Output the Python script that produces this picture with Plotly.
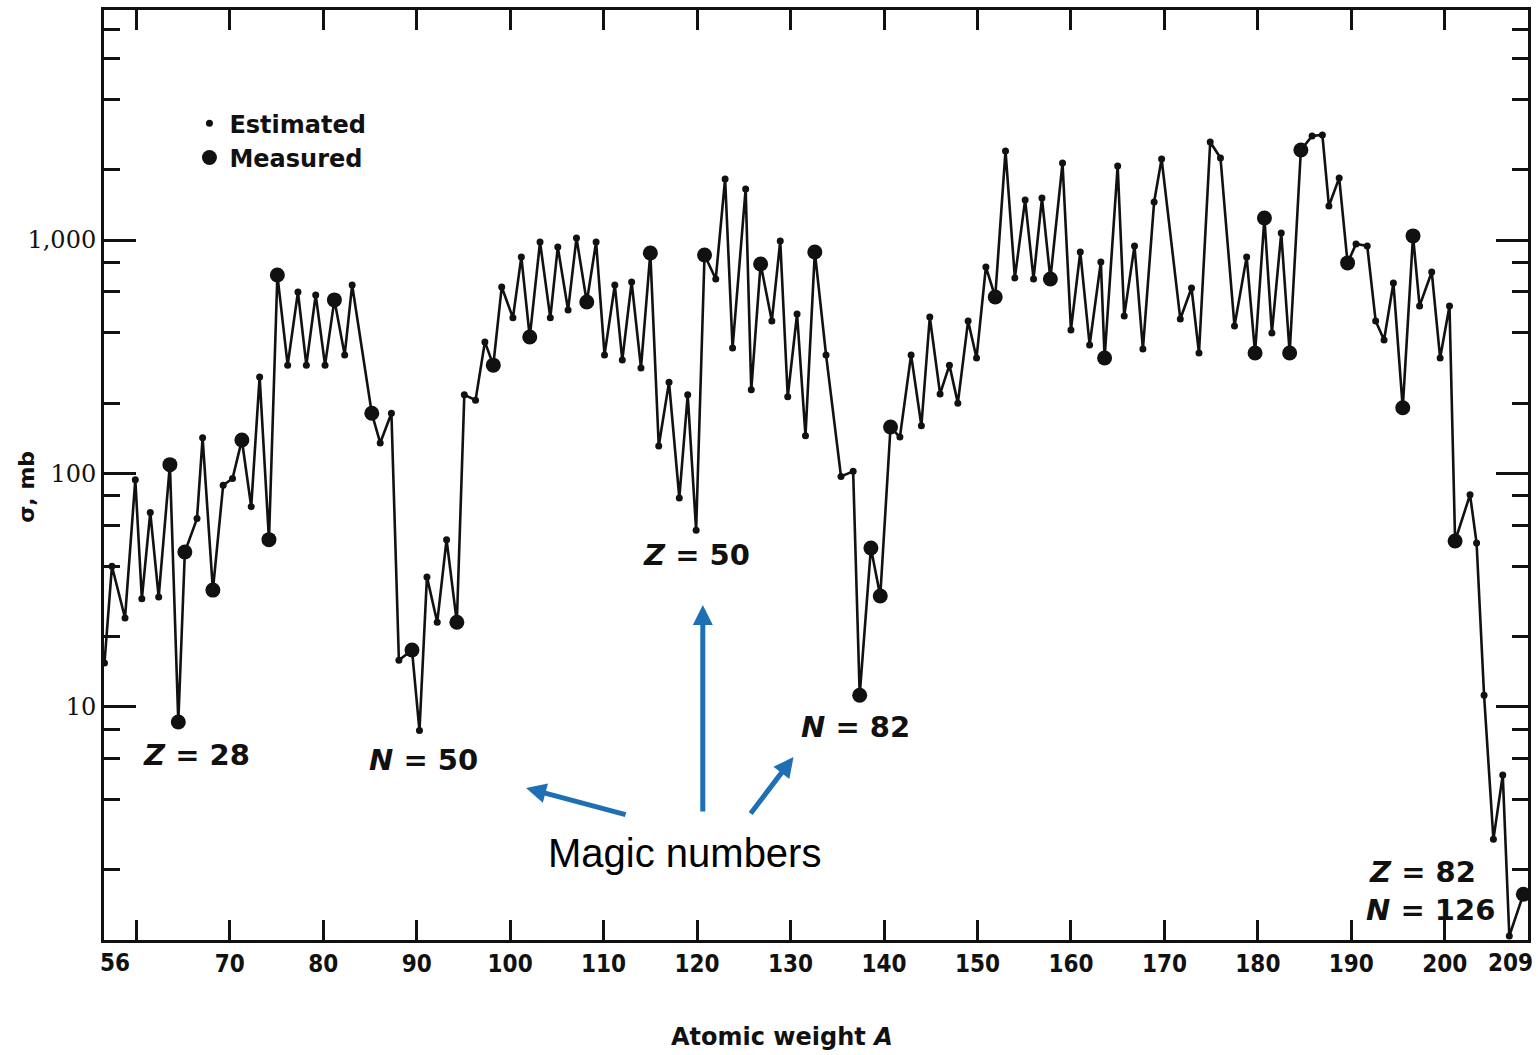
import plotly.graph_objects as go

# ---------------- data ----------------
A = [56.6, 57.4, 58.8, 59.9, 60.6, 61.5, 62.4, 63.6, 64.5, 65.2,
     66.5, 67.1, 68.2, 69.3, 70.3, 71.3, 72.3, 73.2, 74.2, 75.1,
     76.2, 77.3, 78.2, 79.2, 80.2, 81.2, 82.3, 83.1, 85.2, 86.1,
     87.3, 88.1, 89.5, 90.3, 91.1, 92.2, 93.2, 94.3, 95.1, 96.3,
     97.3, 98.2, 99.1, 100.3, 101.2, 102.1, 103.2, 104.3, 105.1, 106.2,
     107.1, 108.2, 109.2, 110.1, 111.2, 112.0, 113.0, 114.0, 115.0, 115.9,
     117.0, 118.1, 119.0, 119.9, 120.8, 122.0, 123.0, 123.8, 125.2, 125.8,
     126.8, 128.0, 128.9, 129.7, 130.7, 131.6, 132.6, 133.8, 135.4, 136.7,
     137.4, 138.6, 139.6, 140.7, 141.7, 142.9, 144.0, 144.9, 146.0, 147.0,
     147.9, 149.0, 149.9, 150.9, 151.9, 153.0, 154.0, 155.1, 156.0, 156.9,
     157.8, 159.1, 160.0, 161.0, 162.0, 163.2, 163.6, 165.0, 165.7, 166.8,
     167.7, 168.9, 169.7, 171.7, 172.9, 173.7, 174.9, 176.0, 177.5, 178.8,
     179.7, 180.7, 181.5, 182.5, 183.4, 184.6, 185.8, 186.9, 187.6, 188.7,
     189.6, 190.5, 191.7, 192.6, 193.5, 194.5, 195.5, 196.6, 197.3, 198.6,
     199.5, 200.5, 201.1, 202.7, 203.4, 204.2, 205.2, 206.2, 206.9, 208.4]

sigma = [15.4, 40, 24, 94, 29, 68, 29.5, 109, 8.6, 46,
         64, 142, 31.6, 89, 95, 139, 72, 259, 52, 708,
         291, 599, 291, 582, 291, 554, 322, 642, 181, 135,
         181, 15.8, 17.5, 7.9, 36, 23, 52, 23, 217, 206,
         366, 291, 629, 464, 847, 384, 981, 464, 934, 501,
         1021, 543, 981, 322, 642, 306, 661, 283, 880, 131,
         246, 78.5, 217, 57, 863, 681, 1828, 345, 1656, 228,
         790, 450, 991, 213, 482, 145, 889, 322, 97, 102,
         11.2, 47.9, 29.8, 158, 143, 322, 160, 468, 219, 291,
         200, 450, 312, 767, 570, 2410, 688, 1486, 681, 1514,
         681, 2140, 412, 889, 355, 806, 312, 2078, 473, 944,
         341, 1456, 2228, 459, 623, 328, 2633, 2249, 428, 847,
         328, 1244, 400, 1072, 328, 2432, 2794, 2820, 1400, 1847,
         798, 962, 944, 450, 373, 655, 191, 1042, 522, 730,
         312, 522, 51.3, 81, 50.3, 11.2, 2.7, 5.1, 1.04, 1.57]

# 'M' = measured, 'E' = estimated
kind = ['E', 'E', 'E', 'E', 'E', 'E', 'E', 'M', 'M', 'M',
        'E', 'E', 'M', 'E', 'E', 'M', 'E', 'E', 'M', 'M',
        'E', 'E', 'E', 'E', 'E', 'M', 'E', 'E', 'M', 'E',
        'E', 'E', 'M', 'E', 'E', 'E', 'E', 'M', 'E', 'E',
        'E', 'M', 'E', 'E', 'E', 'M', 'E', 'E', 'E', 'E',
        'E', 'M', 'E', 'E', 'E', 'E', 'E', 'E', 'M', 'E',
        'E', 'E', 'E', 'E', 'M', 'E', 'E', 'E', 'E', 'E',
        'M', 'E', 'E', 'E', 'E', 'E', 'M', 'E', 'E', 'E',
        'M', 'M', 'M', 'M', 'E', 'E', 'E', 'E', 'E', 'E',
        'E', 'E', 'E', 'E', 'M', 'E', 'E', 'E', 'E', 'E',
        'M', 'E', 'E', 'E', 'E', 'E', 'M', 'E', 'E', 'E',
        'E', 'E', 'E', 'E', 'E', 'E', 'E', 'E', 'E', 'E',
        'M', 'M', 'E', 'E', 'M', 'M', 'E', 'E', 'E', 'E',
        'M', 'E', 'E', 'E', 'E', 'E', 'M', 'M', 'E', 'E',
        'E', 'E', 'M', 'E', 'E', 'E', 'E', 'E', 'E', 'M']

x_tick_vals = [60, 70, 80, 90, 100, 110, 120, 130, 140, 150, 160, 170, 180, 190, 200]
x_tick_text = ["", "70", "80", "90", "100", "110", "120", "130", "140", "150",
               "160", "170", "180", "190", "200"]
x_edge_labels = ["56", "209"]
y_tick_vals = [10, 100, 1000]
y_tick_text = ["10", "100", "1,000"]
y_minor_vals = [2, 4, 6, 8, 20, 40, 60, 80, 200, 400, 600, 800, 2000, 4000, 6000, 8000]

magic_labels = ["<i>Z</i> = 28", "<i>N</i> = 50", "<i>Z</i> = 50", "<i>N</i> = 82",
                "<i>Z</i> = 82", "<i>N</i> = 126"]
callout_text = "Magic numbers"

# ---------------- figure ----------------
est_x = [a for a, k in zip(A, kind) if k == 'E']
est_y = [s for s, k in zip(sigma, kind) if k == 'E']
mea_x = [a for a, k in zip(A, kind) if k == 'M']
mea_y = [s for s, k in zip(sigma, kind) if k == 'M']

ink = "#111111"

fig = go.Figure()
fig.add_trace(go.Scatter(x=A, y=sigma, mode="lines",
                         line=dict(color=ink, width=2.6),
                         showlegend=False, hoverinfo="skip"))
fig.add_trace(go.Scatter(x=est_x, y=est_y, mode="markers", name="Estimated",
                         marker=dict(color=ink, size=7)))
fig.add_trace(go.Scatter(x=mea_x, y=mea_y, mode="markers", name="Measured",
                         marker=dict(color=ink, size=15)))

tick_font = dict(family="DejaVu Sans Condensed, Liberation Sans Narrow, DejaVu Sans, sans-serif",
                 size=24, color=ink, weight="bold")

fig.update_xaxes(range=[56.55, 208.9], showgrid=False, zeroline=False,
                 showline=True, linewidth=3, linecolor=ink, mirror="ticks",
                 ticks="inside", ticklen=20, tickwidth=3, tickcolor=ink,
                 tickmode="array", tickvals=x_tick_vals, ticktext=x_tick_text,
                 tickfont=tick_font)
fig.update_yaxes(type="log", range=[0, 3.986], showgrid=False, zeroline=False,
                 showline=True, linewidth=3, linecolor=ink, mirror="ticks",
                 ticks="inside", ticklen=32, tickwidth=3, tickcolor=ink,
                 tickmode="array", tickvals=y_tick_vals, ticktext=y_tick_text,
                 tickfont=dict(family="DejaVu Serif, Liberation Serif, serif", size=24,
                               color=ink),
                 minor=dict(tickmode="array", tickvals=y_minor_vals, ticks="inside",
                            ticklen=16, tickwidth=3, tickcolor=ink, showgrid=False))

ann = []
# edge tick labels of the x axis
ann.append(dict(text=x_edge_labels[0], xref="paper", yref="paper", x=0.0077, y=-0.0247,
                showarrow=False, font=tick_font, xanchor="center", yanchor="middle"))
ann.append(dict(text=x_edge_labels[1], xref="paper", yref="paper", x=0.9874, y=-0.0247,
                showarrow=False, font=tick_font, xanchor="center", yanchor="middle"))
# axis titles
ann.append(dict(text="Atomic weight <i>A</i>", xref="paper", yref="paper", x=0.4758, y=-0.1043,
                showarrow=False, xanchor="center", yanchor="middle",
                font=dict(family="DejaVu Sans, sans-serif", size=24, color=ink,
                          weight="bold")))
ann.append(dict(text="σ, mb", xref="paper", yref="paper", x=-0.055, y=0.487, textangle=-90,
                showarrow=False, xanchor="center", yanchor="middle",
                font=dict(family="DejaVu Sans, sans-serif", size=22, color=ink, weight="bold")))
# magic-number labels
label_pos = [(0.0652, 0.1989), (0.2242, 0.1935), (0.4163, 0.414), (0.5277, 0.229),
             (0.9257, 0.0731), (0.9313, 0.0323)]
mfont = dict(family="DejaVu Sans, sans-serif", size=29, color=ink, weight="bold")
for t, (px, py) in zip(magic_labels, label_pos):
    ann.append(dict(text=t, xref="paper", yref="paper", x=px, y=py, showarrow=False,
                    xanchor="center", yanchor="middle", font=mfont))
# callout
ann.append(dict(text=callout_text, xref="paper", yref="paper", x=0.4079, y=0.0935,
                showarrow=False, xanchor="center", yanchor="middle",
                font=dict(family="Liberation Sans, Arial, sans-serif", size=40, color="#000000")))
blue = "#1F6FB4"
arrows = [(0.2964, 0.1634, 101, 27), (0.4205, 0.3602, 0, 208), (0.4842, 0.1968, -44, 58)]
for hx, hy, ax, ay in arrows:
    ann.append(dict(text="", xref="paper", yref="paper", x=hx, y=hy, ax=ax, ay=ay,
                    showarrow=True, arrowhead=2, arrowsize=0.8, arrowwidth=5,
                    arrowcolor=blue, standoff=0))

fig.update_layout(
    width=1538, height=1055,
    margin=dict(l=104, r=7, t=10, b=115),
    paper_bgcolor="white", plot_bgcolor="white",
    legend=dict(x=0.06, y=0.902, xanchor="left", yanchor="top",
                bgcolor="rgba(0,0,0,0)", itemsizing="trace",
                font=dict(family="DejaVu Sans, sans-serif", size=24,
                          color=ink, weight="bold")),
    annotations=ann,
)

fig.write_html("out.html",
               config={"displayModeBar": False},
               post_script="document.body.style.margin='0';document.body.style.overflow='hidden';")
